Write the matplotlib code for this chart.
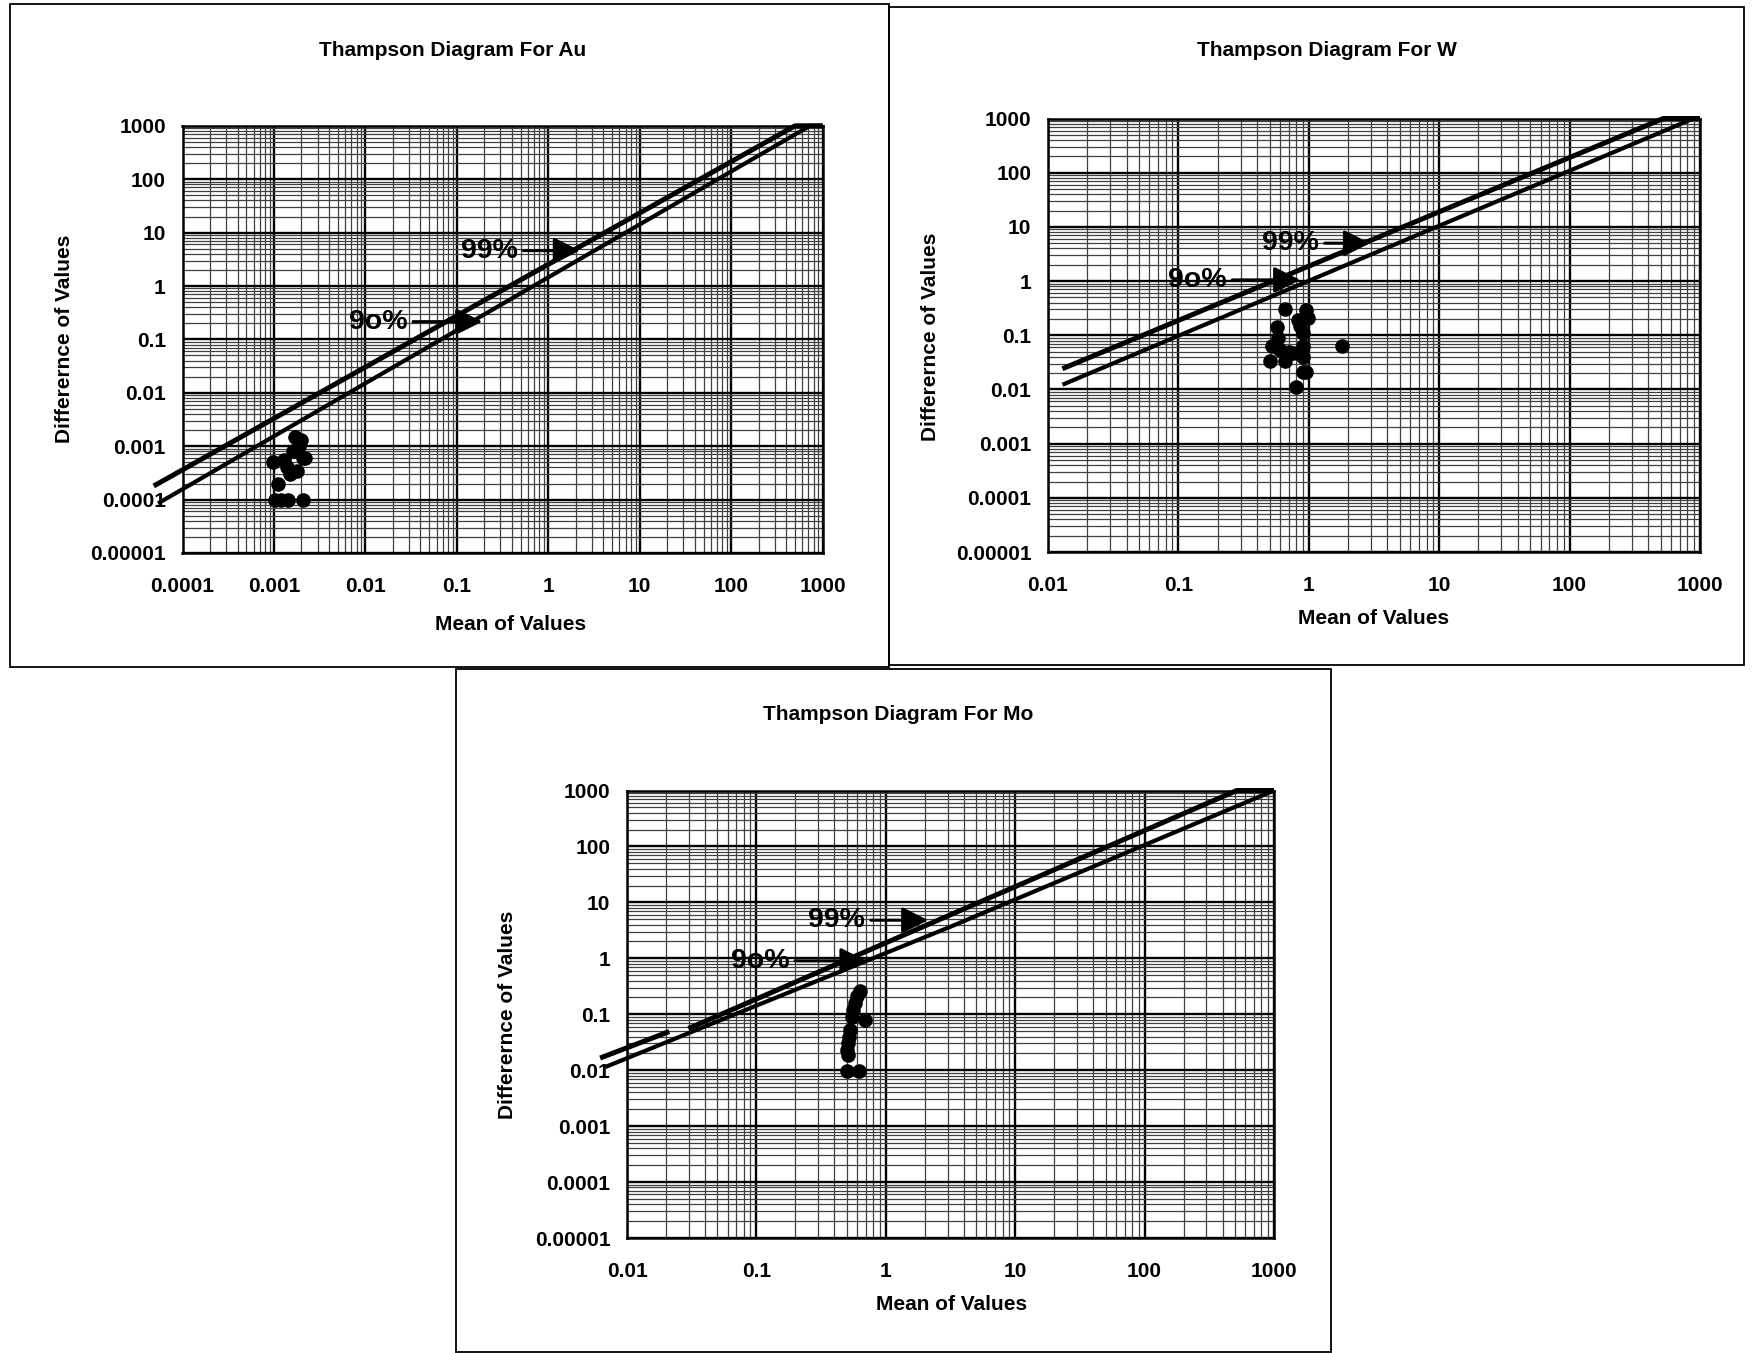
import numpy as np
import matplotlib
matplotlib.use('Agg')
import matplotlib.pyplot as plt
from matplotlib.ticker import LogLocator, FixedLocator, FixedFormatter, NullFormatter
from matplotlib.patches import Rectangle

plt.rcParams['font.family'] = ['Liberation Sans', 'DejaVu Sans']
plt.rcParams['font.weight'] = 'bold'

# ---------------- data ----------------
titles = ["Thampson Diagram For Au", "Thampson Diagram For W", "Thampson Diagram For Mo"]
xlabel = "Mean of Values"
ylabel = "Differernce of Values"
label_99 = "99%"
label_90 = "9o%"

au_xticks = [0.0001, 0.001, 0.01, 0.1, 1, 10, 100, 1000]
au_xticklabels = ["0.0001", "0.001", "0.01", "0.1", "1", "10", "100", "1000"]
wmo_xticks = [0.01, 0.1, 1, 10, 100, 1000]
wmo_xticklabels = ["0.01", "0.1", "1", "10", "100", "1000"]
yticks = [0.00001, 0.0001, 0.001, 0.01, 0.1, 1, 10, 100, 1000]
yticklabels = ["0.00001", "0.0001", "0.001", "0.01", "0.1", "1", "10", "100", "1000"]

# Au scatter (mean, difference)
au_mean = [0.00103, 0.00143, 0.00208, 0.00120, 0.00110, 0.00098, 0.00200, 0.00170,
           0.00220, 0.00180, 0.00150, 0.00130, 0.00160, 0.00140, 0.00210, 0.00190]
au_diff = [0.0001, 0.0001, 0.0001, 0.0001, 0.0002, 0.0005, 0.0013, 0.0015,
           0.0006, 0.00035, 0.0003, 0.00055, 0.0008, 0.0004, 0.0006, 0.0010]
# Au control lines
au_99_x = [4.85e-5, 499, 1000]
au_99_y = [1.8e-4, 1000, 1000]
au_90_x = [5.4e-5, 728, 1000]
au_90_y = [8.5e-5, 1000, 1000]

# W scatter
w_mean = [0.66, 0.96, 0.99, 0.83, 0.57, 0.91, 0.58, 0.52, 0.91, 1.79,
          0.60, 0.76, 0.50, 0.66, 0.91, 0.91, 0.96, 0.80, 0.86, 0.70]
w_diff = [0.31, 0.29, 0.21, 0.19, 0.14, 0.11, 0.09, 0.064, 0.062, 0.063,
          0.054, 0.047, 0.033, 0.033, 0.040, 0.021, 0.021, 0.011, 0.15, 0.05]
w_99_x = [0.0129, 523, 1000]
w_99_y = [0.0241, 1000, 1000]
w_90_x = [0.0129, 890, 1000]
w_90_y = [0.0122, 1000, 1000]

# Mo scatter
mo_mean = [0.63, 0.60, 0.58, 0.56, 0.545, 0.69, 0.53, 0.52, 0.513, 0.50, 0.513, 0.50, 0.62]
mo_diff = [0.26, 0.21, 0.158, 0.12, 0.091, 0.08, 0.053, 0.04, 0.031, 0.023, 0.019, 0.0097, 0.0097]
mo_99a_x = [0.0062, 0.0212]
mo_99a_y = [0.0165, 0.049]
mo_99b_x = [0.0298, 515, 1000]
mo_99b_y = [0.0555, 1000, 1000]
mo_90_x = [0.0068, 3.1, 1000]
mo_90_y = [0.0114, 3.6, 1000]

# label / arrow anchors (text position, arrow tip) in data units
au_ann = {"99": ((0.226, 4.6), (2.22, 4.6)), "90": ((0.0138, 0.215), (0.19, 0.215))}
w_ann = {"99": ((0.726, 5.0), (2.95, 5.0)), "90": ((0.14, 1.05), (0.86, 1.05))}
mo_ann = {"99": ((0.418, 4.8), (2.13, 4.8)), "90": ((0.107, 0.9), (0.71, 0.9))}

# ---------------- figure ----------------
W, H = 1753, 1353
fig = plt.figure(figsize=(W / 100, H / 100), dpi=100)
FS = 15
FS_ANN = 20.5


def fx(px):
    return px / W


def fy(py):
    return 1 - py / H


def panel_rect(x0, y0, x1, y1):
    fig.add_artist(Rectangle((fx(x0), fy(y1)), (x1 - x0) / W, (y1 - y0) / H,
                             transform=fig.transFigure, fill=False, lw=1.3,
                             ec='black', zorder=0))


def make_axes(l, t, r, b):
    return fig.add_axes([fx(l), fy(b), (r - l) / W, (b - t) / H])


def style_axes(ax, xlim, xticks, xticklabels):
    ax.set_xscale('log')
    ax.set_yscale('log')
    ax.set_xlim(*xlim)
    ax.set_ylim(1e-5, 1e3)
    ax.xaxis.set_major_locator(FixedLocator(xticks))
    ax.xaxis.set_major_formatter(FixedFormatter(xticklabels))
    ax.yaxis.set_major_locator(FixedLocator(yticks))
    ax.yaxis.set_major_formatter(FixedFormatter(yticklabels))
    ax.xaxis.set_minor_locator(LogLocator(base=10, subs=np.arange(2, 10), numticks=100))
    ax.yaxis.set_minor_locator(LogLocator(base=10, subs=np.arange(2, 10), numticks=100))
    ax.xaxis.set_minor_formatter(NullFormatter())
    ax.yaxis.set_minor_formatter(NullFormatter())
    ax.grid(which='major', color='black', lw=1.7, zorder=1)
    ax.grid(which='minor', color='0.25', lw=0.9, zorder=1)
    ax.set_axisbelow(True)
    ax.tick_params(which='both', length=0)
    ax.tick_params(axis='x', pad=17, labelsize=FS)
    ax.tick_params(axis='y', pad=12, labelsize=FS)
    for lab in ax.get_xticklabels() + ax.get_yticklabels():
        lab.set_fontweight('bold')
    for s in ax.spines.values():
        s.set_linewidth(1.8)
        s.set_color('black')


def draw_lines(ax, segs):
    for (xs, ys, lw) in segs:
        ax.plot(xs, ys, color='black', lw=lw, solid_capstyle='butt',
                clip_on=False, zorder=3)


def annotate(ax, ann):
    for key, lab in (("99", label_99), ("90", label_90)):
        (tx, ty), (hx, hy) = ann[key]
        ax.annotate(lab, xy=(hx, hy), xytext=(tx, ty), ha='center', va='center',
                    fontsize=FS_ANN, fontweight='bold', zorder=5,
                    arrowprops=dict(arrowstyle='-|>,head_length=0.8,head_width=0.4',
                                    mutation_scale=20, lw=2.2, color='black',
                                    shrinkA=2, shrinkB=0))


def scatter(ax, xs, ys):
    ax.plot(xs, ys, 'o', color='black', ms=10.5, mew=0, zorder=4, clip_on=False)


# ---- Au ----
panel_rect(10.3, 4.3, 888.6, 667)
ax1 = make_axes(182.5, 125.8, 822.6, 553)
style_axes(ax1, (1e-4, 1e3), au_xticks, au_xticklabels)
draw_lines(ax1, [(au_99_x, au_99_y, 3.6), (au_90_x, au_90_y, 3.0)])
scatter(ax1, au_mean, au_diff)
annotate(ax1, au_ann)
fig.text(fx(453), fy(50.5), titles[0], ha='center', va='center', fontsize=FS, fontweight='bold')
fig.text(fx(511), fy(624.5), xlabel, ha='center', va='center', fontsize=FS, fontweight='bold')
fig.text(fx(65), fy(339), ylabel, ha='center', va='center', rotation=90, fontsize=FS, fontweight='bold')

# ---- W ----
panel_rect(888.6, 6.5, 1744, 665)
ax2 = make_axes(1048, 118.5, 1700, 552)
style_axes(ax2, (1e-2, 1e3), wmo_xticks, wmo_xticklabels)
draw_lines(ax2, [(w_99_x, w_99_y, 3.6), (w_90_x, w_90_y, 3.0)])
scatter(ax2, w_mean, w_diff)
annotate(ax2, w_ann)
fig.text(fx(1327), fy(51), titles[1], ha='center', va='center', fontsize=FS, fontweight='bold')
fig.text(fx(1374), fy(619), xlabel, ha='center', va='center', fontsize=FS, fontweight='bold')
fig.text(fx(930), fy(336.6), ylabel, ha='center', va='center', rotation=90, fontsize=FS, fontweight='bold')

# ---- Mo ----
panel_rect(455.7, 668.8, 1331, 1352)
ax3 = make_axes(627, 790.5, 1274, 1238)
style_axes(ax3, (1e-2, 1e3), wmo_xticks, wmo_xticklabels)
draw_lines(ax3, [(mo_99a_x, mo_99a_y, 3.6), (mo_99b_x, mo_99b_y, 3.6), (mo_90_x, mo_90_y, 3.0)])
scatter(ax3, mo_mean, mo_diff)
annotate(ax3, mo_ann)
fig.text(fx(898), fy(715), titles[2], ha='center', va='center', fontsize=FS, fontweight='bold')
fig.text(fx(952), fy(1304.6), xlabel, ha='center', va='center', fontsize=FS, fontweight='bold')
fig.text(fx(507.4), fy(1014.6), ylabel, ha='center', va='center', rotation=90, fontsize=FS, fontweight='bold')

fig.savefig('out.png', dpi=100, facecolor='white')
